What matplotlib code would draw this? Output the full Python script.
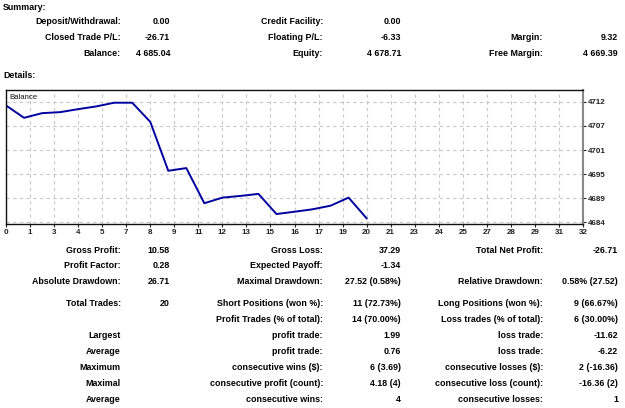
import numpy as np
import matplotlib
matplotlib.use("Agg")
import matplotlib.pyplot as plt

# balance after each closed trade
trades = list(range(21))
balance = [4711.75, 4708.82, 4709.92, 4710.16, 4710.87, 4711.51, 4712.39, 4712.39,
           4707.87, 4696.29, 4696.93, 4688.61, 4689.94, 4690.34, 4690.82, 4686.06,
           4686.60, 4687.18, 4688.03, 4689.94, 4685.04]

xtick_labels = ["0", "1", "3", "4", "5", "7", "8", "9", "11", "12", "13", "15", "16",
                "17", "19", "20", "21", "23", "24", "25", "27", "28", "29", "31", "32"]
ytick_labels = ["4684", "4689", "4695", "4701", "4707", "4712"]

summary_rows = [
    [("Deposit/Withdrawal:", "0.00"), ("Credit Facility:", "0.00"), None],
    [("Closed Trade P/L:", "-26.71"), ("Floating P/L:", "-6.33"), ("Margin:", "9.32")],
    [("Balance:", "4 685.04"), ("Equity:", "4 678.71"), ("Free Margin:", "4 669.39")],
]

detail_rows = [
    [("Gross Profit:", "10.58"), ("Gross Loss:", "37.29"), ("Total Net Profit:", "-26.71")],
    [("Profit Factor:", "0.28"), ("Expected Payoff:", "-1.34"), None],
    [("Absolute Drawdown:", "26.71"), ("Maximal Drawdown:", "27.52 (0.58%)"),
     ("Relative Drawdown:", "0.58% (27.52)")],
    [("Total Trades:", "20"), ("Short Positions (won %):", "11 (72.73%)"),
     ("Long Positions (won %):", "9 (66.67%)")],
    [None, ("Profit Trades (% of total):", "14 (70.00%)"),
     ("Loss trades (% of total):", "6 (30.00%)")],
    [("Largest", ""), ("profit trade:", "1.99"), ("loss trade:", "-11.62")],
    [("Average", ""), ("profit trade:", "0.76"), ("loss trade:", "-6.22")],
    [("Maximum", ""), ("consecutive wins ($):", "6 (3.69)"),
     ("consecutive losses ($):", "2 (-16.36)")],
    [("Maximal", ""), ("consecutive profit (count):", "4.18 (4)"),
     ("consecutive loss (count):", "-16.36 (2)")],
    [("Average", ""), ("consecutive wins:", "4"), ("consecutive losses:", "1")],
]

W, H = 625, 408
fig = plt.figure(figsize=(W / 100, H / 100), dpi=100)
plt.rcParams['font.family'] = ['Liberation Sans', 'DejaVu Sans']

def put(x, y, s, ha="right", size=6.4):
    fig.text(x / W, 1 - y / H, s, ha=ha, va="center", fontsize=size,
             fontweight="bold", color="#000000")

label_x = [121, 323, 543]
value_x = [170, 401, 618]

put(3, 7, "Summary:", ha="left")
for row, y in zip(summary_rows, [22, 37, 53]):
    for col, cell in enumerate(row):
        if cell:
            put(label_x[col], y, cell[0])
            put(value_x[col], y, cell[1])

put(3, 76, "Details:", ha="left")
for row, y in zip(detail_rows, [250, 266, 282, 303, 319, 336, 352, 368, 384, 400]):
    for col, cell in enumerate(row):
        if cell:
            put(label_x[col], y, cell[0])
            if cell[1]:
                put(value_x[col], y, cell[1])

# balance chart
ax = fig.add_axes([6 / W, 1 - 224 / H, 577 / W, 134 / H])
ax.plot(trades, balance, color="#0000a0", lw=1.4)
ax.set_xlim(0, 32)
ax.set_ylim(4683.7, 4715.4)
ax.set_xticks(np.linspace(0, 32, len(xtick_labels)))
ax.set_xticklabels(xtick_labels)
ax.set_yticks(np.linspace(4684.1, 4712.6, len(ytick_labels)))
ax.set_yticklabels(ytick_labels)
ax.yaxis.tick_right()
ax.tick_params(axis="both", labelsize=5.8, length=2, width=0.8, pad=1.5,
               colors="#222222")
for lab in ax.get_xticklabels() + ax.get_yticklabels():
    lab.set_fontweight("bold")
ax.grid(True, color="#c8c8c8", linestyle=(0, (3, 3)), linewidth=0.8)
for sp in ax.spines.values():
    sp.set_linewidth(1.0)
    sp.set_color("#111111")
ax.spines["right"].set_color("#888888")
ax.spines["right"].set_linewidth(1.5)
ax.text(0.006, 0.97, "Balance", transform=ax.transAxes, ha="left", va="top",
        fontsize=5.6, color="#111111")

fig.savefig("out.png", dpi=100)
